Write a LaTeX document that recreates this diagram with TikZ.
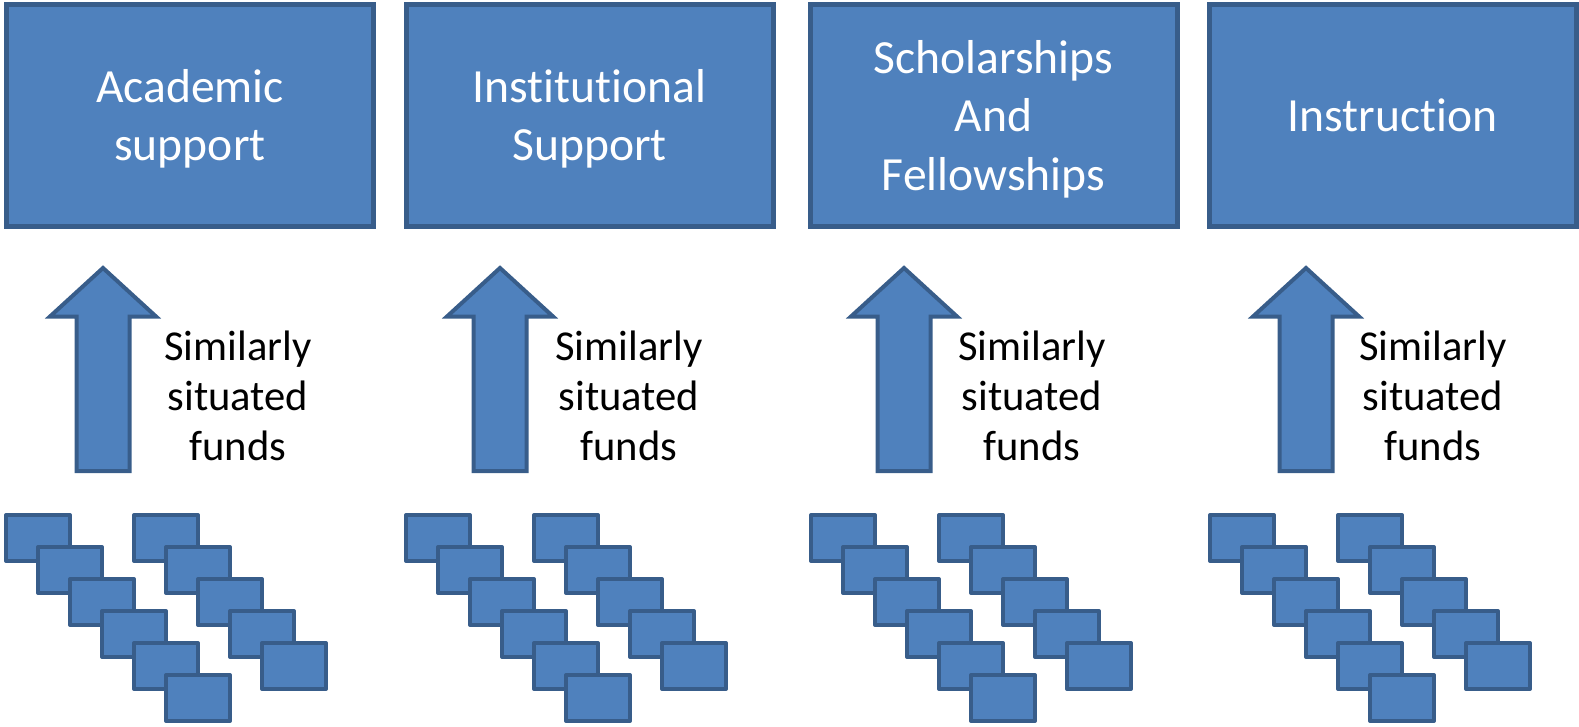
\documentclass[tikz,border=0pt]{standalone}
\usepackage{fontspec}
\setmainfont{Carlito}[Ligatures=NoCommon]
\definecolor{fillb}{HTML}{4F81BD}
\definecolor{lineb}{HTML}{385D8A}
\tikzset{
  bigbox/.style={draw=lineb, fill=fillb, line width=2.5pt, minimum width=183.5pt, minimum height=111pt, inner sep=0pt},
  boxtext/.style={inner sep=0pt, text=white, font=\fontsize{23.8}{29.2}\selectfont, align=center},
  smallbox/.style={draw=lineb, fill=fillb, line width=2pt, line join=round, minimum width=32pt, minimum height=23pt, inner sep=0pt},
  uparrow/.style={draw=lineb, fill=fillb, line width=2pt, line join=miter},
  sidetext/.style={font=\fontsize{21.3}{25}\selectfont, align=center, inner sep=0pt}
}
\begin{document}
\begin{tikzpicture}[x=0.5pt,y=-0.5pt]
\useasboundingbox (0,0) rectangle (1579,727);
% top boxes
\node[bigbox] (b1) at (190,115.5) {};
\node[bigbox] (b2) at (589.5,115.5) {};
\node[bigbox] (b3) at (993.5,115.5) {};
\node[bigbox] (b4) at (1392.5,115.5) {};
\node[boxtext, yshift=-1.8pt] (l1) at (b1.center) {Academic\\support};
\node[boxtext, yshift=-1.8pt] (l2) at (b2.center) {Institutional\\Support};
\node[boxtext, yshift=-1.8pt] (l3) at (b3.center) {Scholarships\\And\\Fellowships};
\node[boxtext] (l4) at (b4.center) {Instruction};
% arrows and labels
\foreach \i/\cx/\tx in {1/103/238, 2/500/629, 3/904/1032, 4/1306/1433}{
  \draw[uparrow] (\cx-26.5,471) -- (\cx-26.5,316.5) -- (\cx-53,316.5) -- (\cx,268) -- (\cx+53,316.5) -- (\cx+26.5,316.5) -- (\cx+26.5,471) -- cycle;
  \node[sidetext] (t\i) at (\tx,396) {Similarly\\situated\\funds};
}
% small stacked boxes
\foreach \g/\gx in {1/4, 2/404, 3/809, 4/1208}{
  \foreach \k in {0,...,5}{
    \node[smallbox] (s\g-a\k) at (\gx+34+32*\k, 538+32*\k) {};
  }
  \foreach \k in {0,...,4}{
    \node[smallbox] (s\g-b\k) at (\gx+162+32*\k, 538+32*\k) {};
  }
}
\end{tikzpicture}
\end{document}
